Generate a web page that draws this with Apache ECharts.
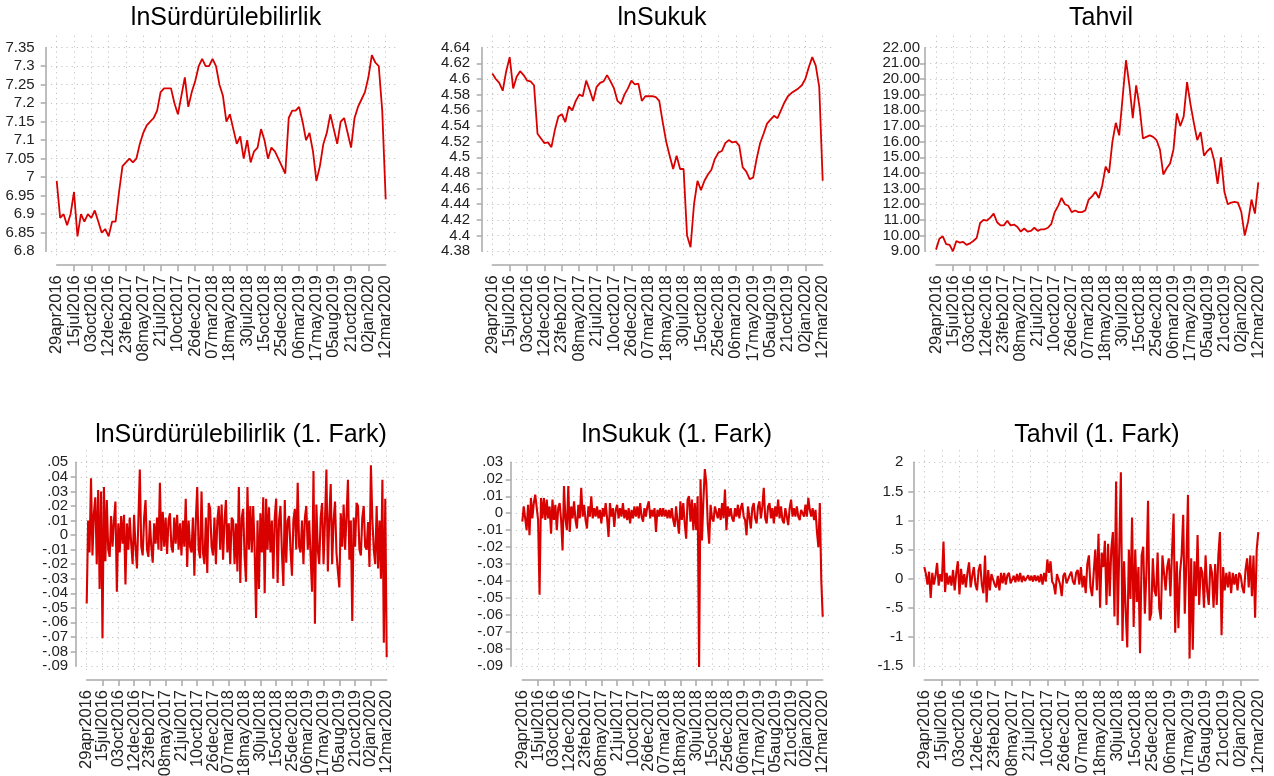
<!DOCTYPE html>
<html>
<head>
<meta charset="utf-8">
<script src="https://cdn.jsdelivr.net/npm/echarts@6/dist/echarts.min.js"></script>
<style>html,body{margin:0;padding:0;background:#fff}#c{width:1274px;height:776px}</style>
</head>
<body>
<div id="c"></div>
<script>
// x tick labels (every 55 observations)
const dateLabels = ['29apr2016','15jul2016','03oct2016','12dec2016','23feb2017','08may2017','21jul2017','10oct2017','26dec2017','07mar2018','18may2018','30jul2018','15oct2018','25dec2018','06mar2019','17may2019','05aug2019','21oct2019','02jan2020','12mar2020'];
const tickStep = 55;
const lastObs = 1045;
const levelStep = 11;   // levels read every 11 observations
const diffStep = 5;     // differences read every 5 observations

const titles = ['lnSürdürülebilirlik','lnSukuk','Tahvil','lnSürdürülebilirlik (1. Fark)','lnSukuk (1. Fark)','Tahvil (1. Fark)'];

const lnSurdurulebilirlik = [6.99,6.89,6.90,6.87,6.90,6.96,6.84,6.90,6.88,6.90,6.89,6.91,6.88,6.85,6.86,6.84,6.88,6.88,6.96,7.03,
7.04,7.05,7.04,7.05,7.09,7.12,7.14,7.15,7.16,7.18,7.23,7.24,7.24,7.24,7.20,7.17,7.22,7.27,7.19,7.23,
7.26,7.30,7.32,7.30,7.30,7.32,7.30,7.25,7.22,7.15,7.17,7.13,7.09,7.11,7.05,7.10,7.04,7.07,7.08,7.13,
7.10,7.05,7.08,7.07,7.05,7.03,7.01,7.16,7.18,7.18,7.19,7.15,7.10,7.12,7.07,6.99,7.03,7.09,7.12,7.17,
7.13,7.09,7.15,7.16,7.12,7.08,7.16,7.19,7.21,7.23,7.27,7.33,7.31,7.30,7.18,6.94];

const lnSukuk = [4.607,4.600,4.595,4.585,4.610,4.628,4.588,4.603,4.610,4.605,4.598,4.597,4.592,4.530,4.524,4.518,4.519,4.513,4.535,4.552,
4.555,4.545,4.565,4.560,4.572,4.580,4.578,4.598,4.586,4.572,4.590,4.595,4.597,4.605,4.597,4.588,4.572,4.568,4.580,4.588,
4.598,4.593,4.594,4.572,4.578,4.578,4.578,4.577,4.572,4.545,4.520,4.502,4.485,4.502,4.485,4.485,4.400,4.385,4.440,4.470,
4.458,4.470,4.478,4.484,4.498,4.506,4.508,4.518,4.522,4.519,4.520,4.515,4.487,4.482,4.472,4.474,4.498,4.518,4.530,4.543,
4.548,4.553,4.550,4.560,4.570,4.578,4.582,4.585,4.588,4.592,4.600,4.615,4.628,4.617,4.590,4.470];

const tahvil = [9.10,9.80,9.95,9.45,9.40,9.00,9.65,9.55,9.60,9.40,9.50,9.65,9.85,10.80,11.00,10.95,11.15,11.40,10.85,10.65,
10.65,10.95,10.65,10.70,10.55,10.25,10.45,10.25,10.30,10.50,10.30,10.40,10.40,10.50,10.75,11.50,11.90,12.40,12.00,11.90,
11.50,11.60,11.50,11.50,11.60,12.30,12.50,12.80,12.40,13.20,14.40,14.00,16.00,17.20,16.40,18.80,21.20,19.60,17.50,19.60,
18.20,16.20,16.30,16.40,16.30,16.10,15.50,13.90,14.30,14.60,15.50,17.80,17.00,17.60,19.80,18.40,17.20,16.10,16.60,15.10,
15.40,15.60,14.80,13.30,15.00,12.80,12.00,12.10,12.15,12.10,11.50,10.00,10.90,12.30,11.40,13.40];

const dSurdurulebilirlik = [-0.047,0.010,-0.012,0.039,-0.014,0.015,0.026,-0.020,0.031,-0.037,0.030,-0.071,0.033,-0.018,0.024,-0.010,-0.015,0.013,-0.008,0.010,
0.023,-0.039,0.008,-0.012,0.013,-0.006,0.014,-0.034,0.008,-0.010,0.012,-0.006,-0.020,0.014,-0.008,-0.023,0.010,0.045,-0.008,-0.014,
0.012,0.024,-0.010,-0.015,0.010,-0.008,-0.019,0.008,-0.006,0.012,-0.010,0.036,-0.011,0.016,-0.008,0.012,-0.013,0.010,0.015,-0.008,
-0.012,0.012,-0.006,0.014,-0.010,0.008,-0.014,0.010,-0.008,0.025,-0.022,0.010,-0.008,-0.012,0.012,-0.028,0.010,0.033,-0.010,-0.016,
0.030,-0.012,-0.020,0.012,-0.026,0.022,0.018,-0.008,-0.014,0.012,-0.020,0.010,0.020,-0.010,0.021,-0.017,0.010,0.024,-0.012,0.008,
-0.020,0.012,0.010,-0.020,0.008,-0.025,0.033,-0.033,0.012,0.018,-0.015,-0.032,0.033,-0.010,0.020,-0.012,0.020,-0.010,-0.057,0.010,
-0.037,0.015,-0.012,0.026,-0.040,0.025,-0.010,0.019,-0.012,0.010,-0.030,0.012,0.025,-0.033,0.010,0.020,-0.012,-0.035,0.024,-0.019,
0.010,0.013,-0.010,-0.028,0.010,0.018,-0.010,0.036,-0.008,-0.012,0.010,-0.020,0.012,0.020,-0.010,0.010,-0.015,-0.039,0.044,-0.061,
0.021,-0.010,-0.020,0.012,0.022,-0.020,0.010,0.045,-0.025,0.012,0.035,-0.020,0.010,0.023,-0.012,-0.025,-0.036,0.015,-0.008,0.021,
-0.010,0.013,0.038,-0.017,0.010,-0.059,0.012,-0.008,0.022,0.020,-0.010,-0.014,0.012,0.020,-0.008,-0.010,0.009,-0.022,0.048,0.011,
-0.010,-0.020,0.020,-0.023,0.010,-0.030,0.038,-0.074,0.025,-0.084];

const dSukuk = [-0.005,0.004,-0.003,-0.010,0.005,-0.013,0.009,-0.003,0.006,0.011,0.010,-0.004,-0.048,0.009,-0.003,0.009,-0.004,0.008,-0.003,0.004,
-0.012,0.008,-0.004,0.005,-0.010,0.003,0.006,-0.004,-0.022,0.016,-0.003,-0.010,0.016,-0.011,0.004,-0.003,0.007,-0.004,-0.009,0.005,
-0.003,0.015,-0.002,0.005,-0.004,-0.009,0.004,-0.002,0.010,-0.003,0.003,-0.002,0.004,-0.003,0.002,-0.006,0.003,-0.002,0.006,-0.003,
-0.014,0.006,-0.002,0.003,-0.008,0.002,0.005,-0.003,0.003,-0.002,0.006,-0.003,0.002,-0.004,0.003,-0.006,0.002,-0.003,0.004,-0.002,
0.004,-0.003,0.006,-0.002,-0.005,0.003,-0.002,0.004,0.007,-0.003,0.002,-0.002,0.003,-0.011,0.002,-0.002,0.003,-0.002,0.003,-0.002,
0.002,-0.003,0.002,-0.003,0.003,-0.004,-0.008,0.004,-0.005,-0.012,0.007,-0.004,0.006,-0.006,-0.015,0.008,0.010,-0.005,0.008,-0.010,
0.006,-0.010,0.010,-0.091,0.020,-0.016,0.008,0.026,0.018,-0.006,-0.018,0.005,-0.003,-0.005,0.004,0.005,-0.003,0.003,-0.004,0.006,
-0.003,0.014,-0.010,0.004,-0.002,0.003,-0.003,-0.005,0.003,-0.002,0.005,-0.003,0.003,0.006,-0.002,-0.004,-0.013,0.004,-0.002,-0.009,
0.003,0.006,-0.003,-0.006,0.004,0.007,-0.003,0.004,0.015,-0.003,-0.006,0.004,0.006,-0.003,0.003,-0.006,0.004,-0.002,0.008,-0.003,
0.004,-0.004,-0.006,0.003,-0.002,-0.007,0.003,0.008,-0.002,0.003,-0.002,0.004,-0.002,-0.004,0.002,0.003,-0.002,0.005,-0.002,0.009,
0.002,-0.002,0.003,-0.004,0.002,-0.011,-0.020,0.006,-0.039,-0.061];

const dTahvil = [0.20,0.08,-0.10,0.12,-0.33,0.10,-0.10,0.05,0.27,-0.12,0.08,-0.05,0.64,-0.23,0.10,-0.10,0.05,-0.12,0.15,-0.20,
0.10,0.30,-0.27,0.17,-0.10,0.08,-0.15,0.10,0.28,-0.15,0.05,0.20,-0.10,-0.20,0.15,0.25,-0.10,-0.25,0.40,-0.41,
0.15,-0.20,0.08,0.10,-0.10,-0.15,0.05,-0.20,0.10,-0.08,0.10,-0.10,0.06,0.10,-0.08,-0.10,0.05,-0.06,0.08,-0.05,
0.10,-0.06,0.05,-0.04,-0.05,0.06,-0.03,0.05,-0.05,0.06,-0.04,0.05,-0.06,0.08,-0.10,0.10,-0.05,0.33,0.10,0.30,
-0.05,-0.10,-0.27,0.08,0.10,-0.10,-0.30,0.05,0.10,-0.08,-0.10,0.06,0.12,-0.05,-0.10,0.10,0.15,-0.10,0.20,-0.15,
0.05,-0.25,0.25,0.40,-0.15,-0.30,0.10,0.50,-0.20,0.77,-0.50,0.45,0.20,0.65,-0.45,0.60,-0.30,0.50,0.80,-0.65,
1.67,-0.80,0.50,1.83,-1.07,0.30,-0.55,-1.18,0.50,-0.35,1.05,-0.83,0.50,-0.40,0.20,-1.28,0.40,0.55,-0.60,0.10,
1.34,-0.72,-0.60,0.35,-0.20,-0.30,0.45,-0.50,-0.70,0.40,0.10,-0.20,0.20,0.35,-0.30,0.45,1.12,-0.93,0.30,-0.85,
0.10,0.40,1.10,-0.60,0.30,1.44,-1.37,0.35,-1.22,0.30,-0.30,0.75,-0.45,0.20,0.10,-0.50,0.40,-0.20,-0.45,0.25,
0.10,-0.50,0.25,-0.45,0.40,0.80,-0.97,0.20,-0.20,0.10,-0.15,0.12,-0.25,0.10,-0.10,0.08,-0.20,0.10,0.05,-0.15,
-0.25,0.15,0.35,-0.15,0.40,-0.30,0.40,-0.67,0.50,0.80];

const yTicks = [
  {min: 6.8, max: 7.35, interval: 0.05},
  {min: 4.38, max: 4.64, interval: 0.02},
  {min: 9, max: 22, interval: 1},
  {min: -0.09, max: 0.05, interval: 0.01},
  {min: -0.09, max: 0.03, interval: 0.01},
  {min: -1.5, max: 2, interval: 0.5}
];

function toPairs(arr, step) { return arr.map((v, i) => [i * step, v]); }
const seriesData = [
  toPairs(lnSurdurulebilirlik, levelStep),
  toPairs(lnSukuk, levelStep),
  toPairs(tahvil, levelStep),
  toPairs(dSurdurulebilirlik, diffStep),
  toPairs(dSukuk, diffStep),
  toPairs(dTahvil, diffStep)
];

function stripZero(s) { return s.replace(/^(-?)0\./, '$1.'); }
const yFormatters = [
  v => String(+v.toFixed(2)),
  v => String(+v.toFixed(2)),
  v => v.toFixed(2),
  v => Math.abs(v) < 1e-9 ? '0' : stripZero(String(+v.toFixed(2))),
  v => Math.abs(v) < 1e-9 ? '0' : stripZero(String(+v.toFixed(2))),
  v => Math.abs(v) < 1e-9 ? '0' : stripZero(String(+v.toFixed(1)))
];

// layout (px)
const layout = [
  {left: 56.7, width: 329, top: 47.7, height: 203.5, yOff: 11, lm: 11, tx: 221, ty: 1, lw: 1.8},
  {left: 492.3, width: 330.4, top: 47.7, height: 203.5, yOff: 10.6, lm: 11.5, tx: 657, ty: 1, lw: 1.8},
  {left: 936, width: 322.3, top: 47.7, height: 203.5, yOff: 11, lm: 5, tx: 1096, ty: 1, lw: 1.8},
  {left: 86.7, width: 300, top: 462.3, height: 203.7, yOff: 11, lm: 7.5, tx: 236, ty: 418, lw: 2.1},
  {left: 522.3, width: 300.4, top: 462.3, height: 203.7, yOff: 11.6, lm: 7.5, tx: 672, ty: 418, lw: 2.1},
  {left: 924.3, width: 334, top: 462.3, height: 203.7, yOff: 11, lm: 10, tx: 1092, ty: 418, lw: 2.1}
];

const FONT = '"Liberation Sans", Arial, Helvetica, sans-serif';
const AX = '#a9a9a9';
const RED = '#d90000';
const dots = {show: true, lineStyle: {color: '#c4c4c4', width: 1, type: [1.2, 4]}};
const hidden = {show: false};

const option = {
  animation: false,
  backgroundColor: '#ffffff',
  title: [], grid: [], xAxis: [], yAxis: [], series: []
};

function addGrid(g) { option.grid.push(Object.assign({outerBoundsMode: 'none', containLabel: false}, g)); return option.grid.length - 1; }
function addX(a) { option.xAxis.push(a); return option.xAxis.length - 1; }
function addY(a) { option.yAxis.push(a); return option.yAxis.length - 1; }

layout.forEach((L, i) => {
  const yt = yTicks[i];
  option.title.push({
    text: titles[i], left: L.tx, top: L.ty, textAlign: 'center',
    textStyle: {fontFamily: FONT, fontSize: 25, fontWeight: 'normal', color: '#000'}
  });
  const gMain = addGrid({left: L.left, top: L.top, width: L.width, height: L.height});
  const gV = addGrid({left: L.left, top: L.top - 12, width: L.width, height: L.height + 19});
  const gH = addGrid({left: L.left - L.yOff, top: L.top, width: L.width + L.yOff + 10, height: L.height});

  const xLabelBase = {rotate: 90, margin: 10, fontFamily: FONT, fontSize: 16.5, color: '#222', hideOverlap: false};
  const yLabelBase = {margin: L.lm, fontFamily: FONT, fontSize: 15, color: '#222', hideOverlap: false};
  const xFmt = v => dateLabels[Math.round(v / tickStep)] || '';

  // main x axis: line, ticks, inner labels
  const xi = addX({
    type: 'value', gridIndex: gMain, min: 0, max: lastObs, interval: tickStep, offset: 14, position: 'bottom',
    axisLine: {show: true, onZero: false, lineStyle: {color: AX, width: 1.5}},
    axisTick: {show: true, length: 6, lineStyle: {color: AX, width: 1.5}},
    axisLabel: Object.assign({}, xLabelBase, {showMinLabel: false, showMaxLabel: false, formatter: xFmt}),
    splitLine: hidden
  });
  // companion x axis: only first and last labels
  addX({
    type: 'value', gridIndex: gMain, min: 0, max: lastObs, interval: tickStep, offset: 14, position: 'bottom',
    axisLine: hidden, axisTick: hidden, splitLine: hidden,
    axisLabel: Object.assign({}, xLabelBase, {showMinLabel: true, showMaxLabel: true,
      formatter: v => (v === 0 || v === lastObs) ? xFmt(v) : ''})
  });
  const yi = addY({
    type: 'value', gridIndex: gMain, min: yt.min, max: yt.max, interval: yt.interval, offset: L.yOff, position: 'left',
    axisLine: {show: true, onZero: false, lineStyle: {color: AX, width: 1.5}},
    axisTick: {show: true, length: 5, lineStyle: {color: AX, width: 1.5}},
    axisLabel: Object.assign({}, yLabelBase, {showMinLabel: false, showMaxLabel: false, formatter: yFormatters[i]}),
    splitLine: hidden
  });
  addY({
    type: 'value', gridIndex: gMain, min: yt.min, max: yt.max, interval: yt.interval, offset: L.yOff, position: 'left',
    axisLine: hidden, axisTick: hidden, splitLine: hidden,
    axisLabel: Object.assign({}, yLabelBase, {showMinLabel: true, showMaxLabel: true,
      formatter: v => (Math.abs(v - yt.min) < 1e-9 || Math.abs(v - yt.max) < 1e-9) ? yFormatters[i](v) : ''})
  });
  // vertical dotted grid lines
  addX({type: 'value', gridIndex: gV, min: 0, max: lastObs, interval: tickStep,
    axisLine: hidden, axisTick: hidden, axisLabel: hidden, splitLine: dots});
  addY({type: 'value', gridIndex: gV, min: 0, max: 1,
    axisLine: hidden, axisTick: hidden, axisLabel: hidden, splitLine: hidden});
  // horizontal dotted grid lines
  addX({type: 'value', gridIndex: gH, min: 0, max: 1,
    axisLine: hidden, axisTick: hidden, axisLabel: hidden, splitLine: hidden});
  addY({type: 'value', gridIndex: gH, min: yt.min, max: yt.max, interval: yt.interval,
    axisLine: hidden, axisTick: hidden, axisLabel: hidden, splitLine: dots});

  option.series.push({
    type: 'line', xAxisIndex: xi, yAxisIndex: yi, data: seriesData[i],
    showSymbol: false, symbol: 'none', smooth: false, z: 5,
    lineStyle: {color: RED, width: L.lw}, silent: true
  });
});

const chart = echarts.init(document.getElementById('c'), null, {renderer: 'canvas'});
chart.setOption(option);
</script>
</body>
</html>
